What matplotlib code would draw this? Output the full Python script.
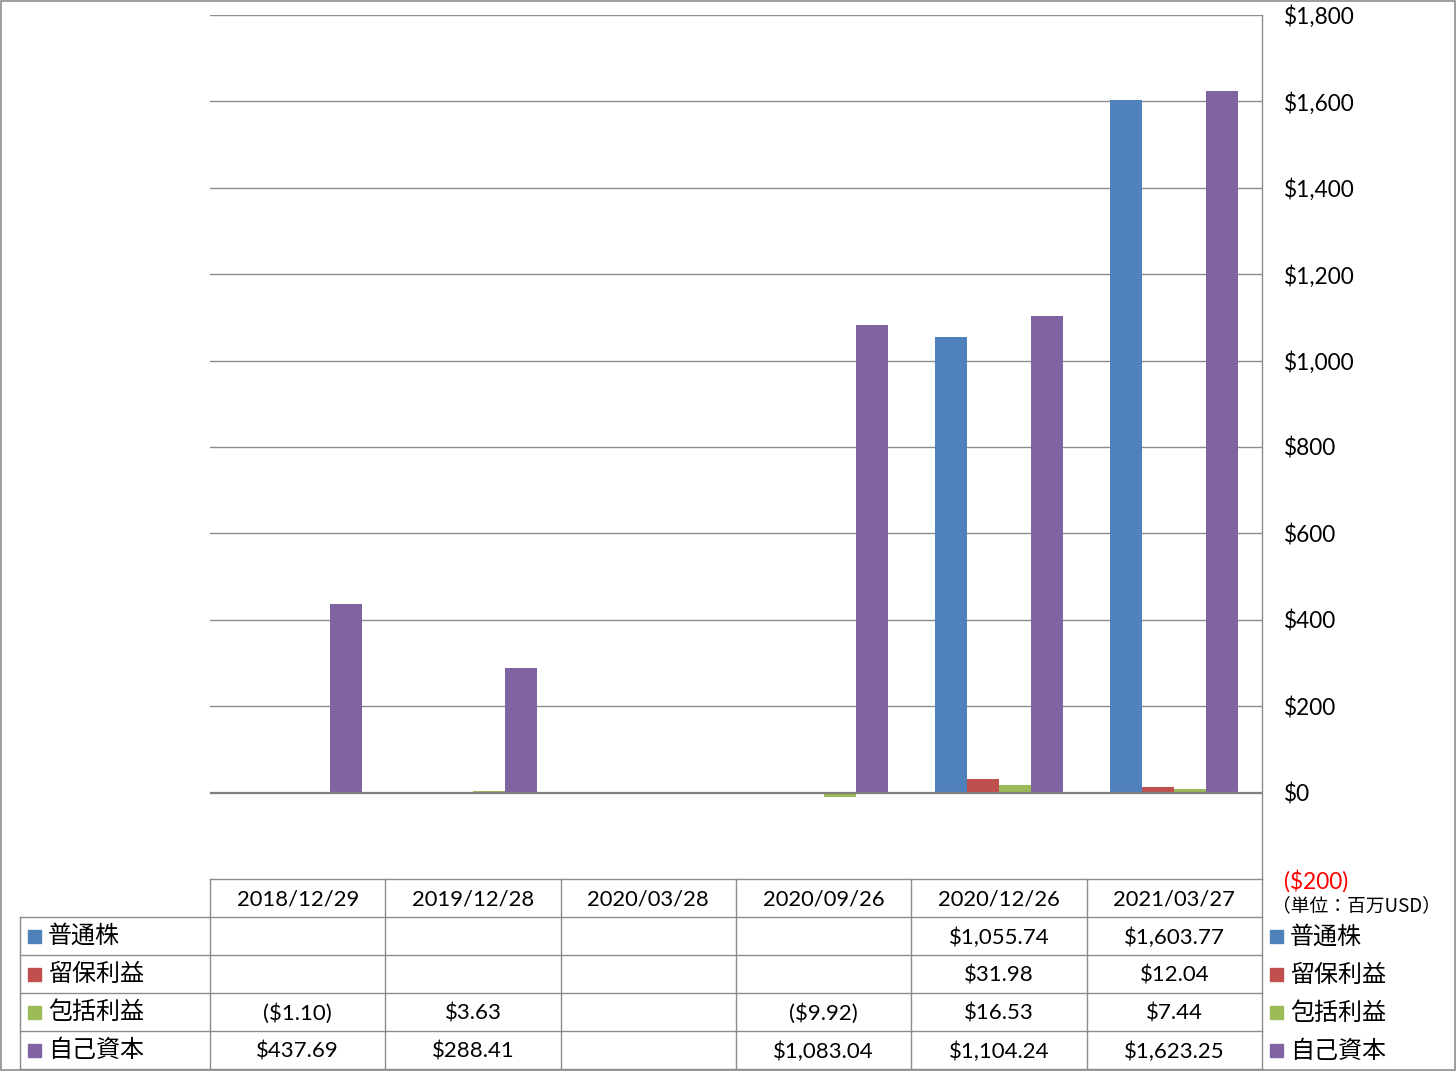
import matplotlib
matplotlib.use("Agg")
import matplotlib.pyplot as plt
from matplotlib.patches import Rectangle
from matplotlib.lines import Line2D

plt.rcParams['font.family'] = ['Lato', 'Noto Sans CJK JP', 'DejaVu Sans']

categories = ["2018/12/29", "2019/12/28", "2020/03/28", "2020/09/26", "2020/12/26", "2021/03/27"]
series_names = ["普通株", "留保利益", "包括利益", "自己資本"]
common_stock = [None, None, None, None, 1055.74, 1603.77]
retained = [None, None, None, None, 31.98, 12.04]
comprehensive = [-1.10, 3.63, None, -9.92, 16.53, 7.44]
equity = [437.69, 288.41, None, 1083.04, 1104.24, 1623.25]
series_values = [common_stock, retained, comprehensive, equity]
colors = ["#4F81BD", "#C0504D", "#9BBB59", "#8064A2"]
yticks = [-200, 0, 200, 400, 600, 800, 1000, 1200, 1400, 1600, 1800]
unit_label = "（単位：百万USD）"

W, H = 1456, 1071
fig = plt.figure(figsize=(W / 100, H / 100), dpi=100)

def fx(px):
    return px / W

def fy(py):
    return 1 - py / H

ax_l, ax_r, ax_t, ax_b = 210, 1262, 15, 879
ax = fig.add_axes([fx(ax_l), fy(ax_b), fx(ax_r - ax_l), (ax_b - ax_t) / H])
n = len(categories)
bw = 0.1826
for i, (vals, c) in enumerate(zip(series_values, colors)):
    xs = [k + (i - 1.5) * bw for k in range(n) if vals[k] is not None]
    ys = [v for v in vals if v is not None]
    ax.bar(xs, ys, width=bw, color=c, zorder=3, linewidth=0)
ax.set_xlim(-0.5, n - 0.5)
ax.set_ylim(-200, 1800)
for y in yticks:
    if y in (-200,):
        continue
    ax.axhline(y, color="#8c8c8c" if y != 0 else "#7f7f7f", lw=1.0 if y != 0 else 1.6, zorder=2 if y != 0 else 4)
ax.set_xticks([])
ax.yaxis.tick_right()
ax.set_yticks(yticks)

def fmt(v):
    if v < 0:
        return "(${:,.0f})".format(-v)
    return "${:,.0f}".format(v)

ax.set_yticklabels([fmt(v) for v in yticks], fontsize=16.3, ha="left")
for lbl, v in zip(ax.get_yticklabels(), yticks):
    if v < 0:
        lbl.set_color("#FF0000")
ax.tick_params(axis="y", length=0, pad=16)
for s in ["top", "left", "bottom"]:
    ax.spines[s].set_visible(False)
ax.spines["right"].set_color("#8c8c8c")
ax.spines["right"].set_linewidth(1.0)

# table
line_c = "#8c8c8c"
col_w = (ax_r - ax_l) / n
header_top, header_bot = 879, 917
row_h = 38
rows_bot = header_bot + row_h * 4

def hline(y, x0, x1):
    fig.add_artist(Line2D([fx(x0), fx(x1)], [fy(y), fy(y)], color=line_c, lw=1.0))

def vline(x, y0, y1):
    fig.add_artist(Line2D([fx(x), fx(x)], [fy(y0), fy(y1)], color=line_c, lw=1.0))

hline(header_top, ax_l, ax_r)
for r in range(5):
    hline(header_bot + r * row_h, 20, ax_r)
for k in range(n + 1):
    vline(ax_l + k * col_w, header_top, rows_bot)
vline(20, header_bot, rows_bot)

for k, c in enumerate(categories):
    fig.text(fx(ax_l + (k + 0.5) * col_w), fy((header_top + header_bot) / 2 + 1), c,
             ha="center", va="center", fontsize=15.8)

def vfmt(v):
    if v < 0:
        return "(${:,.2f})".format(-v)
    return "${:,.2f}".format(v)

for r, (name, vals, c) in enumerate(zip(series_names, series_values, colors)):
    yc = header_bot + (r + 0.5) * row_h
    fig.add_artist(Rectangle((fx(28), fy(yc + 7)), fx(13), 13 / H, color=c))
    fig.text(fx(48), fy(yc), name, ha="left", va="center", fontsize=17.3,
             family=['Noto Sans CJK JP', 'DejaVu Sans'])
    for k, v in enumerate(vals):
        if v is not None:
            fig.text(fx(ax_l + (k + 0.5) * col_w), fy(yc + 2), vfmt(v),
                     ha="center", va="center", fontsize=16)
    # right legend
    fig.add_artist(Rectangle((fx(1270), fy(yc + 7)), fx(13), 13 / H, color=c))
    fig.text(fx(1290), fy(yc + 1), name, ha="left", va="center", fontsize=17.3,
             family=['Noto Sans CJK JP', 'DejaVu Sans'])

fig.text(fx(1272), fy(906), unit_label, ha="left", va="center", fontsize=13.5,
         family=['Noto Sans CJK JP', 'DejaVu Sans'])

fig.add_artist(Rectangle((0.0005, 0.0005), 0.999, 0.999, fill=False, edgecolor="#8c8c8c", lw=1.2))

fig.savefig("out.png", dpi=100)
